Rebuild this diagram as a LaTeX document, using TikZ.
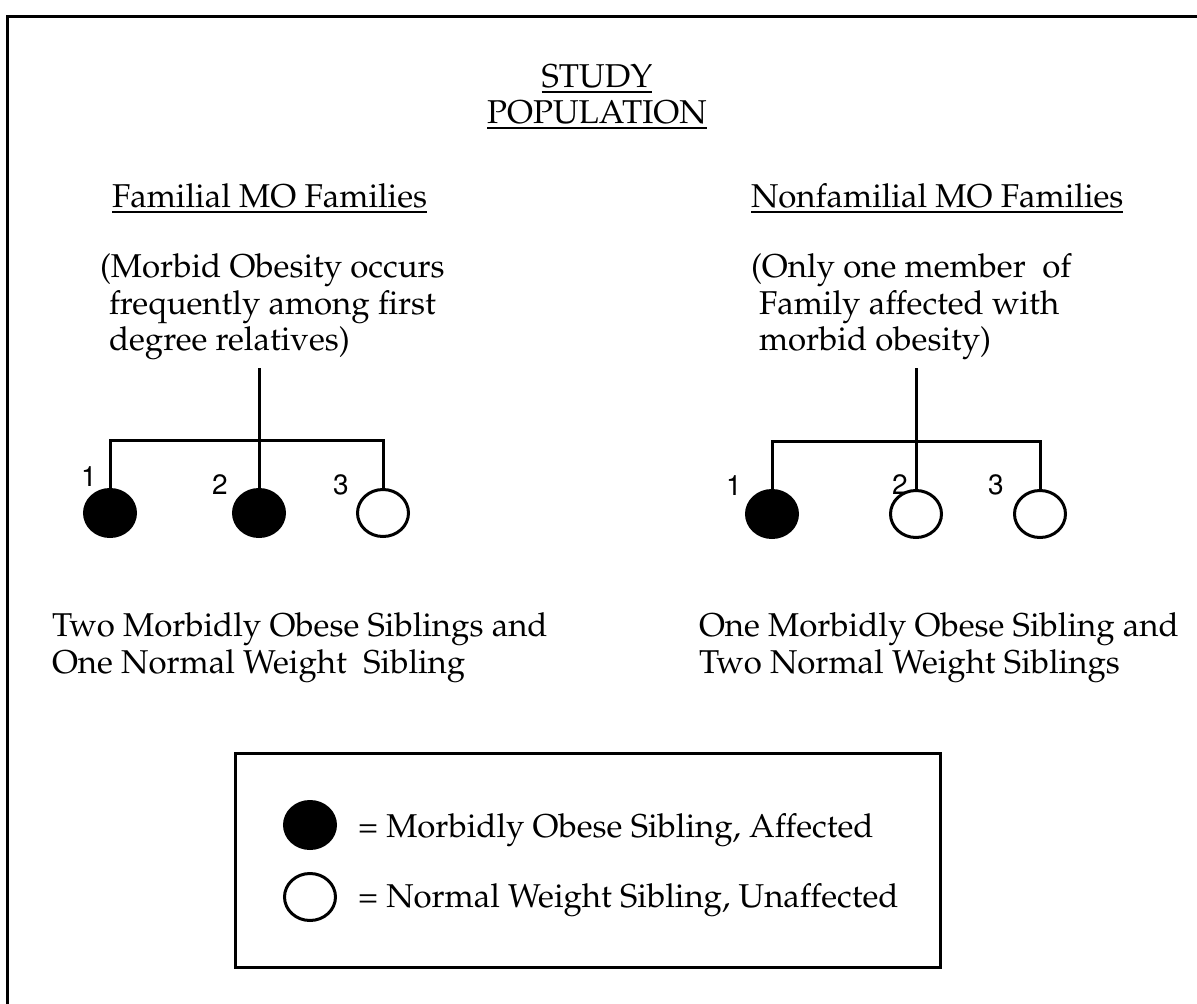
\documentclass[tikz,border=0pt]{standalone}
\usepackage[T1]{fontenc}
\renewcommand{\rmdefault}{ppl}
\usetikzlibrary{shapes.geometric}
\tikzset{
  txt/.style={inner sep=0pt, outer sep=0pt, anchor=base west, font=\fontsize{33}{37}\selectfont},
  ttl/.style={inner sep=0pt, outer sep=0pt, anchor=base, font=\fontsize{33}{37}\selectfont},
  num/.style={inner sep=0pt, outer sep=0pt, anchor=base, font=\fontfamily{phv}\fontsize{28}{30}\selectfont},
  aff/.style={ellipse, draw, fill=black, line width=3pt, minimum width=51pt, minimum height=47pt, inner sep=0pt, outer sep=0pt},
  unaff/.style={ellipse, draw, fill=white, line width=3pt, minimum width=51pt, minimum height=47pt, inner sep=0pt, outer sep=0pt},
  ln/.style={line width=3pt},
  ul/.style={line width=2pt}
}
\begin{document}
\begin{tikzpicture}[x=1pt, y=-1pt]
\useasboundingbox (0,0) rectangle (1197,1004);
% outer frame (left and top edges)
\coordinate (fa) at (7,1004);
\coordinate (fb) at (7,16);
\coordinate (fc) at (1197,16);
\draw[ln] (fa) -- (fb) -- (fc);

% title
\node[ttl] (study) at (597,87) {STUDY};
\node[ttl] (pop) at (597,123) {POPULATION};
\draw[ul] ([yshift=-5pt]study.base west) -- ([yshift=-5pt]study.base east);
\draw[ul] ([yshift=-5pt]pop.base west) -- ([yshift=-5pt]pop.base east);

% headers
\node[txt] (famh) at (112,207) {Familial MO Families};
\node[txt] (nfamh) at (751,207) {Nonfamilial MO Families};
\draw[ul] ([yshift=-5pt]famh.base west) -- ([yshift=-5pt]famh.base east);
\draw[ul] ([yshift=-5pt]nfamh.base west) -- ([yshift=-5pt]nfamh.base east);

% descriptions
\node[txt] (fd1) at (100,277) {(Morbid Obesity occurs};
\node[txt] (fd2) at (109,314) {frequently among first};
\node[txt] (fd3) at (109,350) {degree relatives)};
\node[txt] (nd1) at (751,277) {(Only one member\ \ of};
\node[txt] (nd2) at (759,314) {Family affected with};
\node[txt] (nd3) at (759,350) {morbid obesity)};

% left pedigree
\node[aff] (a1) at (110,513) {};
\node[aff] (a2) at (259,513) {};
\node[unaff] (a3) at (383,513) {};
\coordinate (at) at (259,368);
\coordinate (aj) at (259,440);
\draw[ln] (at) -- (a2.north);
\draw[ln] (a1.north) -- (a1.north |- aj) -- (a3.north |- aj) -- (a3.north);
\node[num] (n1) at (89,486) {1};
\node[num] (n2) at (220,494) {2};
\node[num] (n3) at (341,494) {3};

% right pedigree
\node[aff] (b1) at (772,514) {};
\node[unaff] (b2) at (916,514) {};
\node[unaff] (b3) at (1040,514) {};
\coordinate (bt) at (916,368);
\coordinate (bj) at (916,441);
\draw[ln] (bt) -- (b2.north);
\draw[ln] (b1.north) -- (b1.north |- bj) -- (b3.north |- bj) -- (b3.north);
\node[num] (m1) at (734,495) {1};
\node[num] (m2) at (900,494) {2};
\node[num] (m3) at (996,494) {3};

% summaries
\node[txt] (fs1) at (52,636) {Two Morbidly Obese Siblings and};
\node[txt] (fs2) at (52,673) {One Normal Weight\ \ Sibling};
\node[txt] (ns1) at (699,636) {One Morbidly Obese Sibling and};
\node[txt] (ns2) at (699,673) {Two Normal Weight Siblings};

% legend
\node[draw, line width=3pt, inner sep=0pt, outer sep=0pt, minimum width=705pt, minimum height=214pt] (leg) at (587.5,860) {};
\node[aff] (la) at (310,825) {};
\node[unaff] (lu) at (310,897) {};
\node[txt] (lta) at (358,837) {= Morbidly Obese Sibling, Affected};
\node[txt] (ltu) at (358,907) {= Normal Weight Sibling, Unaffected};
\end{tikzpicture}
\end{document}
